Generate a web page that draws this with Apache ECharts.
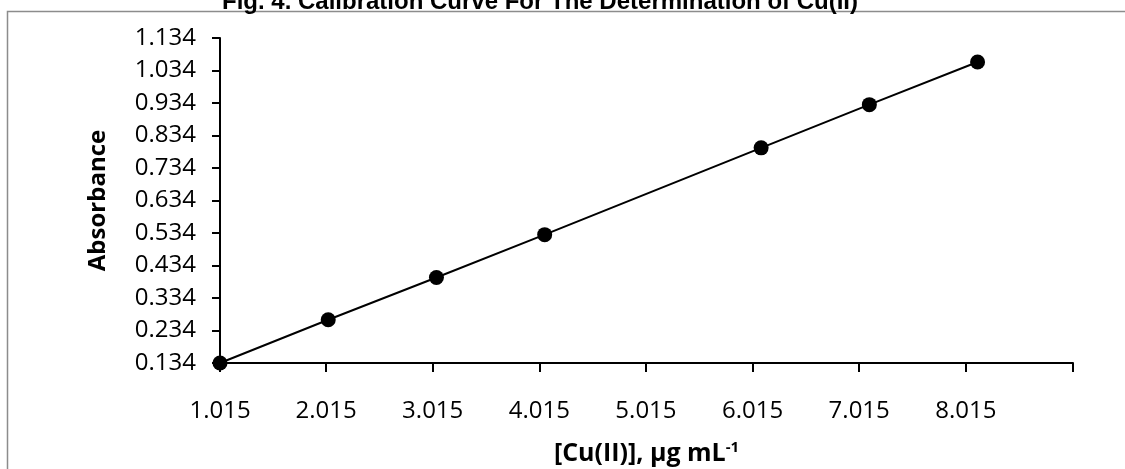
<!DOCTYPE html>
<html>
<head>
<meta charset="utf-8">
<script src="https://cdn.jsdelivr.net/npm/echarts@6/dist/echarts.min.js"></script>
<style>html,body{margin:0;padding:0;background:#fff;}#c{width:1125px;height:469px;}</style>
</head>
<body>
<div id="c"></div>
<script>
const titleText = 'Fig. 4. Calibration Curve For The Determination of Cu(II)';
const xName = '[Cu(II)], μg mL';
const yName = 'Absorbance';
const concentrations = [1.015, 2.03, 3.045, 4.06, 6.09, 7.105, 8.12];
const absorbances = [0.134, 0.267, 0.397, 0.529, 0.796, 0.929, 1.060];
const xMin = 1.015, xMax = 9.015, xStep = 1, xLabelCount = 8;
const yMin = 0.134, yMax = 1.134, yStep = 0.1;

const chart = echarts.init(document.getElementById('c'), null, {renderer: 'canvas'});
const data = concentrations.map((x, i) => [x, absorbances[i]]);
const labelFont = '"Open Sans", "Noto Sans", sans-serif';
chart.setOption({
  animation: false,
  backgroundColor: '#fff',
  title: {
    text: titleText,
    left: 535, textAlign: 'center', top: -15,
    textStyle: {fontFamily: 'Liberation Sans, Arial, sans-serif', fontWeight: 'bold', fontSize: 24, color: '#000'}
  },
  graphic: [{
    type: 'rect', shape: {x: 7.5, y: 11.5, width: 1130, height: 470},
    style: {fill: 'none', stroke: '#8c8c8c', lineWidth: 1.5}, z: -1
  }],
  grid: {left: 220, right: 52, top: 38, bottom: 106, outerBoundsMode: 'none', containLabel: false},
  xAxis: {
    type: 'value', min: xMin, max: xMax, interval: xStep,
    name: xName + '{sup|-1}',
    nameLocation: 'middle', nameGap: 77,
    nameTextStyle: {
      fontFamily: labelFont, fontWeight: 'bold', fontSize: 25, color: '#000',
      rich: {sup: {fontFamily: labelFont, fontWeight: 'bold', fontSize: 15, color: '#000', verticalAlign: 'top', padding: [0,0,12,0]}}
    },
    splitLine: {show: false},
    axisLine: {lineStyle: {color: '#000', width: 2}},
    axisTick: {show: true, length: 9, lineStyle: {color: '#000', width: 2}},
    axisLabel: {
      showMaxLabel: false, margin: 36, fontFamily: labelFont, fontSize: 24, color: '#000',
      formatter: v => {
        const k = Math.round((v - xMin) / xStep);
        return k < xLabelCount ? (xMin + k * xStep).toFixed(3) : '';
      }
    }
  },
  yAxis: {
    type: 'value', min: yMin, max: yMax, interval: yStep,
    name: yName, nameLocation: 'middle', nameGap: 110, nameRotate: 90,
    nameTextStyle: {fontFamily: labelFont, fontWeight: 'bold', fontSize: 24, color: '#000'},
    splitLine: {show: false},
    axisLine: {show: true, lineStyle: {color: '#000', width: 2}},
    axisTick: {show: true, length: 8, lineStyle: {color: '#000', width: 2}},
    axisLabel: {
      margin: 24, fontFamily: labelFont, fontSize: 24, color: '#000',
      formatter: v => {
        const k = Math.round((v - yMin) / yStep);
        return (yMin + k * yStep).toFixed(3);
      }
    }
  },
  series: [{
    type: 'line', data: data, clip: false,
    symbol: 'circle', symbolSize: 15,
    itemStyle: {color: '#000'},
    lineStyle: {color: '#000', width: 2}
  }]
});
</script>
</body>
</html>
